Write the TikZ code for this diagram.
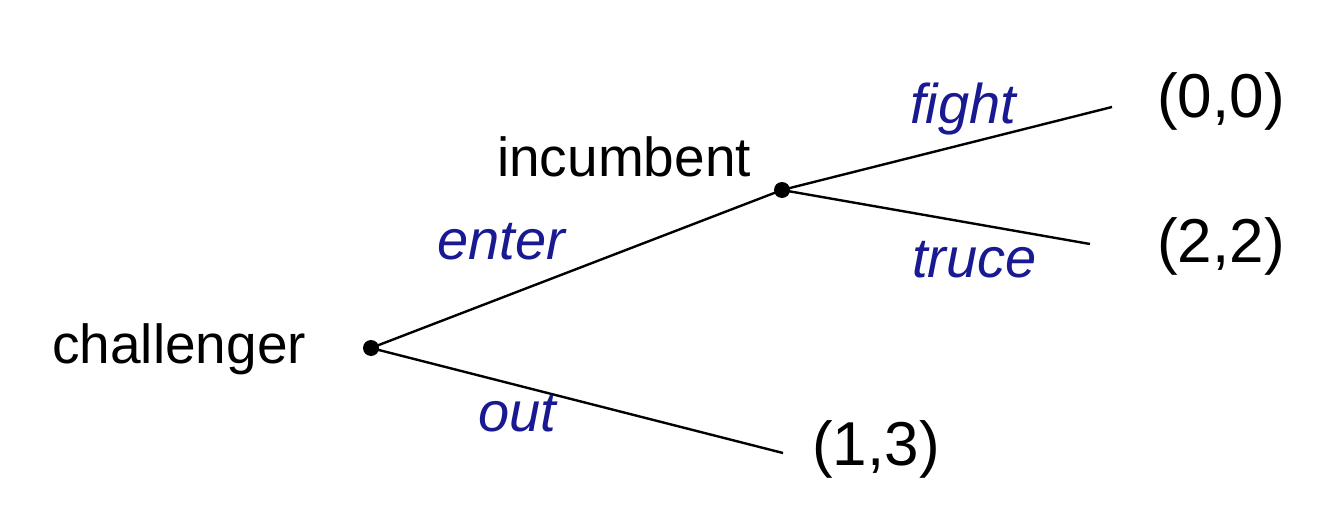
\documentclass[tikz,border=0pt]{standalone}
\usepackage{fontspec}
\setmainfont{Liberation Sans}
\definecolor{lblue}{RGB}{25,25,145}
\begin{document}
\begin{tikzpicture}[x=1pt,y=-1pt,
  dot/.style={circle,fill=black,inner sep=0pt,minimum size=16pt},
  player/.style={anchor=base west,inner sep=0pt,font=\fontsize{55}{66}\selectfont},
  payoff/.style={anchor=base west,inner sep=0pt,font=\fontsize{62}{74}\selectfont},
  act/.style={anchor=base west,inner sep=0pt,text=lblue,font=\fontsize{56}{67}\selectfont\itshape},
  edge/.style={line width=2.4pt}]
\useasboundingbox (0,0) rectangle (1328,508);
\node[dot] (c) at (371,348) {};
\node[dot] (i) at (782,190) {};
\coordinate (f) at (1112,107);
\coordinate (t) at (1090,244);
\coordinate (o) at (783,453);
\draw[edge] (c.center) -- (i.center);
\draw[edge] (c.center) -- (o);
\draw[edge] (i.center) -- (f);
\draw[edge] (i.center) -- (t);
\node[player] (cl) at (52,363) {challenger};
\node[player] (il) at (497,176) {incumbent};
\node[payoff] (p1) at (1157,118) {(0,0)};
\node[payoff] (p2) at (1157,262) {(2,2)};
\node[payoff] (p3) at (812,465) {(1,3)};
\node[act] (fl) at (910,124) {fight};
\node[act] (el) at (437,259) {enter};
\node[act] (tl) at (912,277) {truce};
\node[act] (ol) at (478,431) {out};
\end{tikzpicture}
\end{document}
